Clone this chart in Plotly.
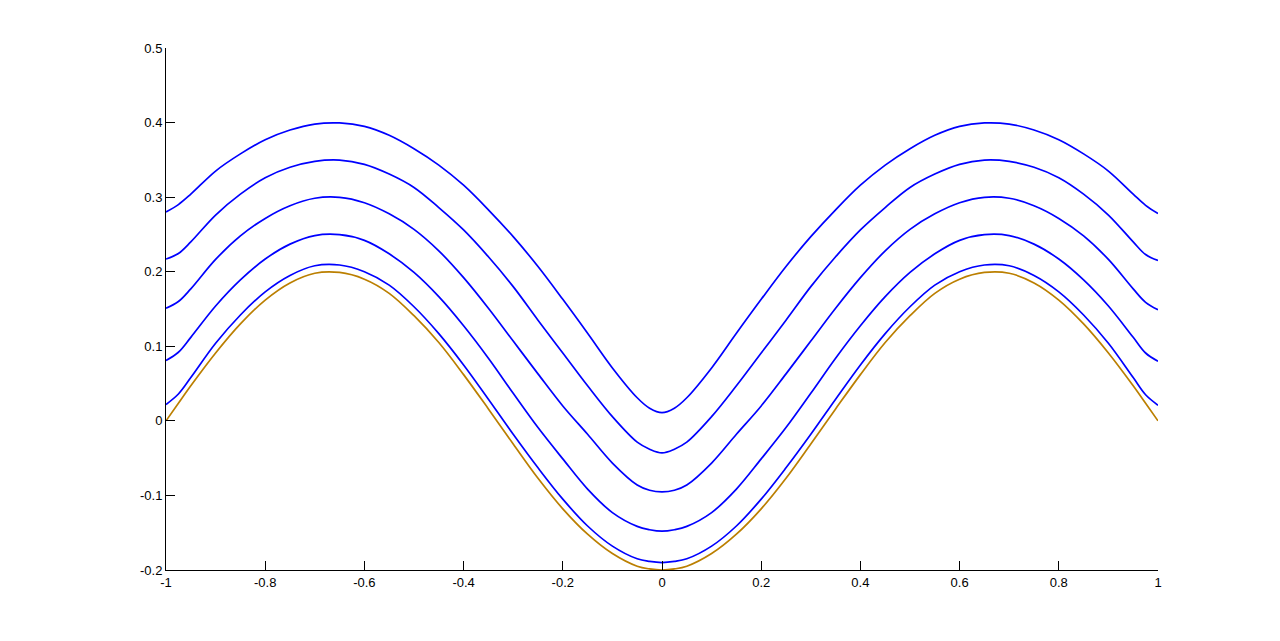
import plotly.graph_objects as go

# sample positions along x
x = [-1.0, -0.975, -0.95, -0.9, -0.85, -0.8, -0.75, -0.7, -0.65, -0.6, -0.55, -0.5,
     -0.45, -0.4, -0.35, -0.3, -0.25, -0.2, -0.15, -0.1, -0.05, -0.025, 0.0,
     0.025, 0.05, 0.1, 0.15, 0.2, 0.25, 0.3, 0.35, 0.4, 0.45, 0.5,
     0.55, 0.6, 0.65, 0.7, 0.75, 0.8, 0.85, 0.9, 0.95, 0.975, 1.0]

# base curve (brown)
base = [0.000, 0.0235, 0.047, 0.091, 0.130, 0.162, 0.185, 0.198, 0.199, 0.190, 0.171, 0.141,
        0.105, 0.062, 0.016, -0.031, -0.077, -0.118, -0.152, -0.178, -0.195, -0.1986, -0.200,
        -0.1986, -0.195, -0.178, -0.152, -0.118, -0.077, -0.031, 0.016, 0.062, 0.105, 0.141,
        0.171, 0.190, 0.199, 0.198, 0.185, 0.162, 0.130, 0.091, 0.047, 0.0235, 0.000]

# blue curves, bottom to top
level1 = [0.022, 0.036, 0.058, 0.104, 0.142, 0.173, 0.195, 0.208, 0.209, 0.200, 0.182, 0.153,
          0.117, 0.075, 0.029, -0.018, -0.063, -0.105, -0.141, -0.168, -0.185, -0.1885, -0.190,
          -0.1885, -0.185, -0.168, -0.141, -0.105, -0.063, -0.018, 0.029, 0.075, 0.117, 0.153,
          0.182, 0.200, 0.209, 0.208, 0.195, 0.173, 0.142, 0.104, 0.058, 0.035, 0.021]
level2 = [0.081, 0.092, 0.112, 0.154, 0.189, 0.217, 0.237, 0.2485, 0.2497, 0.242, 0.224, 0.199,
          0.1665, 0.1275, 0.084, 0.037, -0.009, -0.051, -0.0915, -0.123, -0.1415, -0.146, -0.148,
          -0.146, -0.1415, -0.123, -0.0915, -0.051, -0.009, 0.037, 0.084, 0.1275, 0.1665, 0.199,
          0.224, 0.242, 0.2497, 0.2485, 0.237, 0.217, 0.189, 0.154, 0.112, 0.091, 0.080]
level3 = [0.151, 0.160, 0.177, 0.2165, 0.248, 0.2715, 0.2885, 0.2985, 0.2997, 0.2925, 0.2776, 0.2568,
          0.228, 0.192, 0.151, 0.107, 0.063, 0.020, -0.018, -0.0566, -0.086, -0.093, -0.0952,
          -0.093, -0.086, -0.0566, -0.018, 0.020, 0.063, 0.107, 0.151, 0.192, 0.228, 0.2568,
          0.2776, 0.2925, 0.2997, 0.2985, 0.2885, 0.2715, 0.248, 0.2165, 0.177, 0.159, 0.149]
level4 = [0.217, 0.2245, 0.240, 0.276, 0.304, 0.326, 0.340, 0.348, 0.3497, 0.344, 0.331, 0.313,
          0.286, 0.256, 0.220, 0.180, 0.135, 0.091, 0.047, 0.0056, -0.0286, -0.038, -0.043,
          -0.038, -0.0286, 0.0056, 0.047, 0.091, 0.135, 0.180, 0.220, 0.256, 0.286, 0.313,
          0.331, 0.344, 0.3497, 0.348, 0.340, 0.326, 0.304, 0.276, 0.240, 0.223, 0.215]
level5 = [0.280, 0.290, 0.304, 0.335, 0.358, 0.377, 0.390, 0.398, 0.3995, 0.395, 0.383, 0.365,
          0.343, 0.316, 0.283, 0.247, 0.207, 0.163, 0.1175, 0.071, 0.031, 0.017, 0.011,
          0.017, 0.031, 0.071, 0.1175, 0.163, 0.207, 0.247, 0.283, 0.316, 0.343, 0.365,
          0.383, 0.395, 0.3995, 0.398, 0.390, 0.377, 0.358, 0.335, 0.304, 0.289, 0.278]

x_ticks = [-1, -0.8, -0.6, -0.4, -0.2, 0, 0.2, 0.4, 0.6, 0.8, 1]
x_labels = ['-1', '-0.8', '-0.6', '-0.4', '-0.2', '0', '0.2', '0.4', '0.6', '0.8', '1']
y_ticks = [-0.2, -0.1, 0, 0.1, 0.2, 0.3, 0.4, 0.5]
y_labels = ['-0.2', '-0.1', '0', '0.1', '0.2', '0.3', '0.4', '0.5']

fig = go.Figure()

for y in [level1, level2, level3, level4, level5]:
    fig.add_trace(go.Scatter(
        x=x, y=y, mode='lines',
        line=dict(color='#0000FF', width=1.7, shape='spline', smoothing=1.0),
        hoverinfo='skip'
    ))

fig.add_trace(go.Scatter(
    x=x, y=base, mode='lines',
    line=dict(color='#BB7F00', width=1.7, shape='spline', smoothing=1.0),
    hoverinfo='skip'
))

axis_style = dict(
    showline=True, linecolor='black', linewidth=1,
    ticks='inside', ticklen=9, tickcolor='black', tickwidth=1,
    showgrid=False, zeroline=False,
    tickfont=dict(family='Liberation Sans, Arial, sans-serif', size=13, color='black'),
    mirror=False,
)

fig.update_xaxes(range=[-1, 1], tickvals=x_ticks, ticktext=x_labels, **axis_style)
fig.update_yaxes(range=[-0.2, 0.5], tickvals=y_ticks, ticktext=y_labels, **axis_style)

# page body adds an 8px offset, so margins are shifted to keep the plot area in place
fig.update_layout(
    width=1280, height=641,
    margin=dict(l=158, r=130, t=40, b=79),
    paper_bgcolor='white', plot_bgcolor='white',
    showlegend=False,
)

fig.write_html("out.html")
